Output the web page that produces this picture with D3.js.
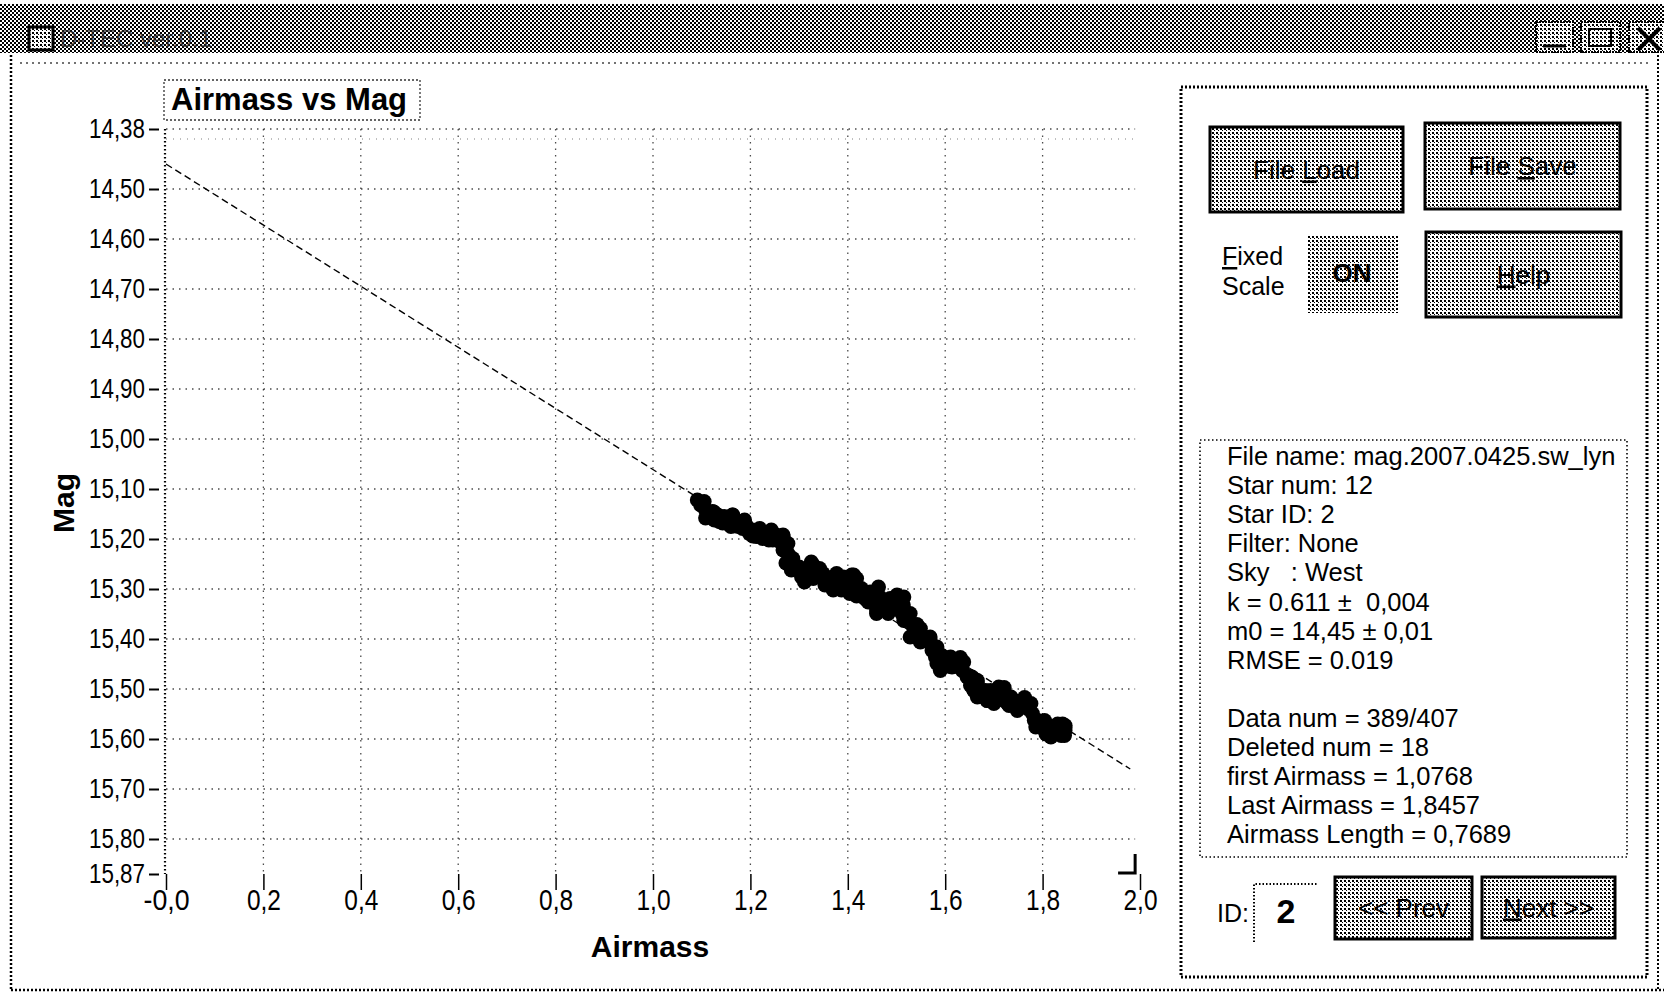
<!DOCTYPE html>
<html><head><meta charset="utf-8">
<script src="https://cdn.jsdelivr.net/npm/d3@7"></script>
<style>body{margin:0;background:#fff}svg{display:block}</style>
</head><body>
<svg id="c" width="1664" height="995"></svg>
<script>
// ---------- data ----------
const xTicks = [0, 0.2, 0.4, 0.6, 0.8, 1.0, 1.2, 1.4, 1.6, 1.8, 2.0];
const xTickLabels = ["-0,0","0,2","0,4","0,6","0,8","1,0","1,2","1,4","1,6","1,8","2,0"];
const yTicks = [14.38, 14.50, 14.60, 14.70, 14.80, 14.90, 15.00, 15.10, 15.20, 15.30, 15.40, 15.50, 15.60, 15.70, 15.80, 15.87];
const yTickLabels = ["14,38","14,50","14,60","14,70","14,80","14,90","15,00","15,10","15,20","15,30","15,40","15,50","15,60","15,70","15,80","15,87"];
const xGrid = [0.2, 0.4, 0.6, 0.8, 1.0, 1.2, 1.4, 1.6, 1.8];
const yGrid = [14.38, 14.50, 14.60, 14.70, 14.80, 14.90, 15.00, 15.10, 15.20, 15.30, 15.40, 15.50, 15.60, 15.70, 15.80];
const fitLine = [[0, 14.45], [1.98, 15.66]];   // m0 = 14.45, k = 0.611
const dataPoints = [
 [1.091,15.122],[1.098,15.132],[1.108,15.142],[1.115,15.155],[1.122,15.145],[1.133,15.152],
 [1.136,15.165],[1.146,15.155],[1.153,15.169],[1.163,15.152],[1.170,15.162],[1.177,15.175],
 [1.184,15.179],[1.191,15.172],[1.198,15.189],[1.205,15.182],[1.212,15.195],[1.219,15.179],
 [1.229,15.189],[1.239,15.192],[1.246,15.202],[1.253,15.192],[1.260,15.205],[1.267,15.195],
 [1.270,15.215],[1.277,15.229],[1.280,15.246],[1.287,15.239],[1.291,15.259],[1.298,15.256],
 [1.305,15.276],[1.315,15.266],[1.322,15.256],[1.329,15.279],[1.335,15.262],[1.342,15.259],
 [1.349,15.269],[1.356,15.279],[1.363,15.292],[1.370,15.276],[1.380,15.289],[1.387,15.302],
 [1.391,15.276],[1.401,15.286],[1.408,15.272],[1.415,15.289],[1.421,15.312],[1.428,15.299],
 [1.435,15.319],[1.446,15.306],[1.452,15.322],[1.459,15.342],[1.466,15.316],[1.473,15.329],
 [1.480,15.342],[1.487,15.319],[1.494,15.336],[1.504,15.326],[1.511,15.349],[1.518,15.362],
 [1.528,15.349],[1.535,15.376],[1.542,15.393],[1.549,15.379],[1.556,15.399],[1.566,15.406],
 [1.573,15.423],[1.580,15.436],[1.587,15.449],[1.593,15.433],[1.600,15.446],[1.611,15.436],
 [1.621,15.449],[1.628,15.456],[1.635,15.463],[1.645,15.476],[1.652,15.493],[1.659,15.503],
 [1.666,15.489],[1.676,15.509],[1.686,15.523],[1.693,15.503],[1.704,15.509],[1.710,15.496],
 [1.721,15.523],[1.731,15.533],[1.741,15.523],[1.752,15.529],[1.762,15.523],[1.769,15.539],
 [1.779,15.549],[1.790,15.563],[1.796,15.576],[1.803,15.570],[1.814,15.583],[1.824,15.590],
 [1.834,15.580],[1.841,15.570],[1.846,15.583],[1.846,15.573],[1.845,15.593],[1.817,15.596],
 [1.105,15.125],[1.126,15.162],[1.160,15.175],[1.188,15.162],[1.225,15.199],[1.243,15.182],
 [1.277,15.209],[1.284,15.262],[1.311,15.286],[1.325,15.246],[1.353,15.292],[1.377,15.269],
 [1.404,15.309],[1.418,15.279],[1.442,15.326],[1.463,15.296],[1.483,15.349],[1.501,15.312],
 [1.514,15.332],[1.528,15.396],[1.549,15.406],[1.569,15.396],[1.583,15.416],[1.590,15.463],
 [1.614,15.456],[1.638,15.446],[1.655,15.476],[1.666,15.516],[1.683,15.503],[1.700,15.529],
 [1.717,15.506],[1.735,15.516],[1.748,15.543],[1.776,15.529],[1.786,15.576],[1.807,15.590],
 [1.831,15.570],[1.838,15.593],
 [1.418,15.314],[1.459,15.349],[1.515,15.363],[1.536,15.395],[1.583,15.449],[1.610,15.455],
 [1.651,15.475],[1.659,15.503],[1.686,15.523],[1.728,15.529],[1.783,15.563],[1.804,15.582],
 [1.841,15.589],[1.108,15.158],[1.143,15.168],[1.170,15.174],[1.205,15.194],[1.238,15.202],
 [1.267,15.222],[1.273,15.248],[1.309,15.278],[1.350,15.274],[1.370,15.302],
 [1.125,15.146],[1.164,15.152],[1.187,15.176],[1.238,15.190],[1.267,15.192],[1.300,15.256],
 [1.329,15.252],[1.377,15.276],[1.412,15.272],[1.459,15.306],[1.515,15.316],[1.542,15.371],
 [1.569,15.403],[1.631,15.437],[1.666,15.483],[1.721,15.497],[1.763,15.517],[1.804,15.563],
 [1.846,15.577]
];
const infoLines = [
 "File name: mag.2007.0425.sw_lyn","Star num: 12","Star ID: 2","Filter: None","Sky   : West",
 "k = 0.611 \u00b1  0,004","m0 = 14,45 \u00b1 0,01","RMSE = 0.019","",
 "Data num = 389/407","Deleted num = 18","first Airmass = 1,0768","Last Airmass = 1,8457","Airmass Length = 0,7689"
];

// ---------- setup ----------
const svg = d3.select("#c");
const NARROW = "'Liberation Sans Narrow','Liberation Sans','DejaVu Sans',sans-serif";
const SANS = "'Liberation Sans','DejaVu Sans',sans-serif";

const defs = svg.append("defs");
const p1 = defs.append("pattern").attr("id","dark").attr("width",4).attr("height",4).attr("patternUnits","userSpaceOnUse");
p1.append("rect").attr("width",4).attr("height",4).attr("fill","#fff");
p1.append("rect").attr("x",0).attr("y",0).attr("width",2).attr("height",2).attr("fill","#000");
p1.append("rect").attr("x",2).attr("y",2).attr("width",2).attr("height",2).attr("fill","#000");
const p2 = defs.append("pattern").attr("id","light").attr("width",4).attr("height",4).attr("patternUnits","userSpaceOnUse");
p2.append("rect").attr("width",4).attr("height",4).attr("fill","#fff");
p2.append("rect").attr("x",0).attr("y",0).attr("width",2).attr("height",2).attr("fill","#000");
p2.append("rect").attr("x",2).attr("y",2).attr("width",1).attr("height",1).attr("fill","#000");

svg.append("rect").attr("width",1664).attr("height",995).attr("fill","#fff");

// ---------- window chrome ----------
svg.append("rect").attr("x",0).attr("y",4).attr("width",1664).attr("height",49).attr("fill","url(#dark)");
svg.append("rect").attr("x",29).attr("y",27).attr("width",24).attr("height",23).attr("fill","url(#light)").attr("stroke","#000").attr("stroke-width",3);
svg.append("text").attr("x",60).attr("y",47).attr("font-family",SANS).attr("font-size",24)
  .attr("fill","#222").attr("opacity",0.7).text("D-TEC ver.0.1");
[[1536,1573],[1581,1620],[1629,1668]].forEach(([a,b]) => {
  svg.append("rect").attr("x",a).attr("y",22).attr("width",b-a).attr("height",30)
    .attr("fill","url(#light)").attr("stroke","#000").attr("stroke-width",2).attr("stroke-dasharray","2,1");
});
svg.append("path").attr("d","M1543,46 H1566").attr("stroke","#000").attr("stroke-width",3);
svg.append("rect").attr("x",1589).attr("y",29).attr("width",22).attr("height",17).attr("fill","none").attr("stroke","#000").attr("stroke-width",2);
svg.append("path").attr("d","M1638,28 L1660,50 M1660,28 L1638,50").attr("stroke","#000").attr("stroke-width",4);

const dotted = (d, w, dash, col) => svg.append("path").attr("d", d).attr("fill","none")
  .attr("stroke", col || "#000").attr("stroke-width", w).attr("stroke-dasharray", dash);
dotted("M11,55 V990", 2.5, "2,2");
dotted("M11,990 H1664", 2.5, "2,2");
dotted("M1658,55 V990", 2, "2,2");
dotted("M20,63 H1650", 1.5, "2,4", "#444");

// ---------- chart ----------
const x = d3.scaleLinear().domain([0, 2.0]).range([166, 1140]);
const y = d3.scaleLinear().domain([14.38, 15.87]).range([129, 874]);
const g = svg.append("g");

// grid
g.selectAll(".hg").data(yGrid).join("line")
  .attr("x1", x(0)).attr("x2", x(1.99)).attr("y1", d => y(d)).attr("y2", d => y(d))
  .attr("stroke","#000").attr("stroke-width",1.3).attr("stroke-dasharray","1.5,5").attr("opacity",0.7);
g.selectAll(".vg").data(xGrid).join("line")
  .attr("x1", d => x(d)).attr("x2", d => x(d)).attr("y1", y(14.38)).attr("y2", y(15.87))
  .attr("stroke","#000").attr("stroke-width",1.3).attr("stroke-dasharray","1.5,5").attr("opacity",0.7);
g.append("line").attr("x1", x(0)).attr("x2", x(1.99)).attr("y1", y(14.40)).attr("y2", y(14.40))
  .attr("stroke","#000").attr("stroke-width",1).attr("stroke-dasharray","1,6").attr("opacity",0.5);
// y axis line (dotted)
g.append("line").attr("x1", x(0)-1).attr("x2", x(0)-1).attr("y1", y(14.38)).attr("y2", y(15.87))
  .attr("stroke","#000").attr("stroke-width",2.2).attr("stroke-dasharray","1.5,2.5");

// axes
const yAxis = d3.axisLeft(y).tickValues(yTicks).tickFormat((d,i) => yTickLabels[i]).tickSize(10).tickPadding(4);
const ya = svg.append("g").attr("transform", `translate(${x(0)-7},0)`).call(yAxis);
ya.select(".domain").remove();
ya.selectAll("line").attr("stroke","#000").attr("stroke-width",2);
ya.selectAll("text").attr("font-family",NARROW).attr("font-size",27).attr("fill","#000")
  .each(function(){ this.setAttribute("textLength", 56); this.setAttribute("lengthAdjust","spacingAndGlyphs"); });

const xAxis = d3.axisBottom(x).tickValues(xTicks).tickFormat((d,i) => xTickLabels[i]).tickSize(16).tickPadding(-1);
const xa = svg.append("g").attr("transform", `translate(0,${y(15.87)})`).call(xAxis);
xa.select(".domain").remove();
xa.selectAll("line").attr("stroke","#000").attr("stroke-width",1.5);
xa.selectAll("text").attr("font-family",NARROW).attr("font-size",30).attr("fill","#000")
  .each(function(d,i){ this.setAttribute("textLength", i === 0 ? 46 : 34); this.setAttribute("lengthAdjust","spacingAndGlyphs"); });
// little corner mark at the end of the x axis
svg.append("path").attr("d", `M${x(1.955)},${y(15.87)-1} H${x(1.99)} V${y(15.83)}`)
  .attr("fill","none").attr("stroke","#000").attr("stroke-width",3);

// fit line
g.append("path").datum(fitLine)
  .attr("d", d3.line().x(d => x(d[0])).y(d => y(d[1])))
  .attr("fill","none").attr("stroke","#000").attr("stroke-width",1.4).attr("stroke-dasharray","7,4");

// data points
g.selectAll(".pt").data(dataPoints).join("circle")
  .attr("cx", d => x(d[0])).attr("cy", d => y(d[1])).attr("r", 7.5).attr("fill","#000");

// title box
svg.append("rect").attr("x",164).attr("y",80).attr("width",256).attr("height",40)
  .attr("fill","#fff").attr("stroke","#000").attr("stroke-width",1.3).attr("stroke-dasharray","2,2").attr("opacity",0.8);
svg.append("text").attr("x",171).attr("y",110).attr("font-family",SANS).attr("font-weight","bold")
  .attr("font-size",31).attr("fill","#000").text("Airmass vs Mag");

// axis titles
svg.append("text").attr("x",650).attr("y",957).attr("text-anchor","middle").attr("font-family",SANS)
  .attr("font-weight","bold").attr("font-size",30).text("Airmass");
svg.append("text").attr("transform","translate(74,503) rotate(-90)").attr("text-anchor","middle")
  .attr("font-family",SANS).attr("font-weight","bold").attr("font-size",30).text("Mag");

// ---------- right panel ----------
dotted("M1181,87 H1647 V977 H1181 Z", 3, "2,2");
const button = (x0, y0, w, h, label, ul) => {
  svg.append("rect").attr("x",x0).attr("y",y0).attr("width",w).attr("height",h)
    .attr("fill","url(#light)").attr("stroke","#000").attr("stroke-width",3);
  const t = svg.append("text").attr("x",x0+w/2).attr("y",y0+h/2+9).attr("text-anchor","middle")
    .attr("font-family",SANS).attr("font-size",26).attr("fill","#000");
  label.forEach((s,i) => t.append("tspan").text(s).attr("text-decoration", i===ul ? "underline" : null));
};
button(1210,127,193,85,["File ","L","oad"],1);
button(1425,123,195,86,["File ","S","ave"],1);
button(1426,232,195,85,["H","elp"],0);
svg.append("rect").attr("x",1307).attr("y",235).attr("width",91).attr("height",78).attr("fill","url(#light)");
svg.append("text").attr("x",1352).attr("y",282).attr("text-anchor","middle").attr("font-family",SANS)
  .attr("font-size",26).attr("font-weight","bold").text("ON");
const fx = svg.append("text").attr("x",1222).attr("y",265).attr("font-family",SANS).attr("font-size",25);
fx.append("tspan").attr("text-decoration","underline").text("F"); fx.append("tspan").text("ixed");
svg.append("text").attr("x",1222).attr("y",295).attr("font-family",SANS).attr("font-size",25).text("Scale");

// info box
dotted("M1200,440 H1627 V857 H1200 Z", 1.6, "1.5,2.5");
svg.append("g").selectAll("text").data(infoLines).join("text")
  .attr("x",1227).attr("y",(d,i) => 465 + i*29.1)
  .attr("font-family",SANS).attr("font-size",25.5).attr("fill","#000")
  .attr("xml:space","preserve").style("white-space","pre").text(d => d);

// ID and nav buttons
svg.append("text").attr("x",1217).attr("y",922).attr("font-family",SANS).attr("font-size",25).text("ID:");
dotted("M1254,942 V884 H1317", 2, "1.5,2");
svg.append("text").attr("x",1286).attr("y",923).attr("text-anchor","middle").attr("font-family",SANS)
  .attr("font-weight","bold").attr("font-size",34).text("2");
button(1335,877,137,62,["<< Prev"],-1);
button(1482,877,133,61,["N","ext >>"],0);
</script>
</body></html>
